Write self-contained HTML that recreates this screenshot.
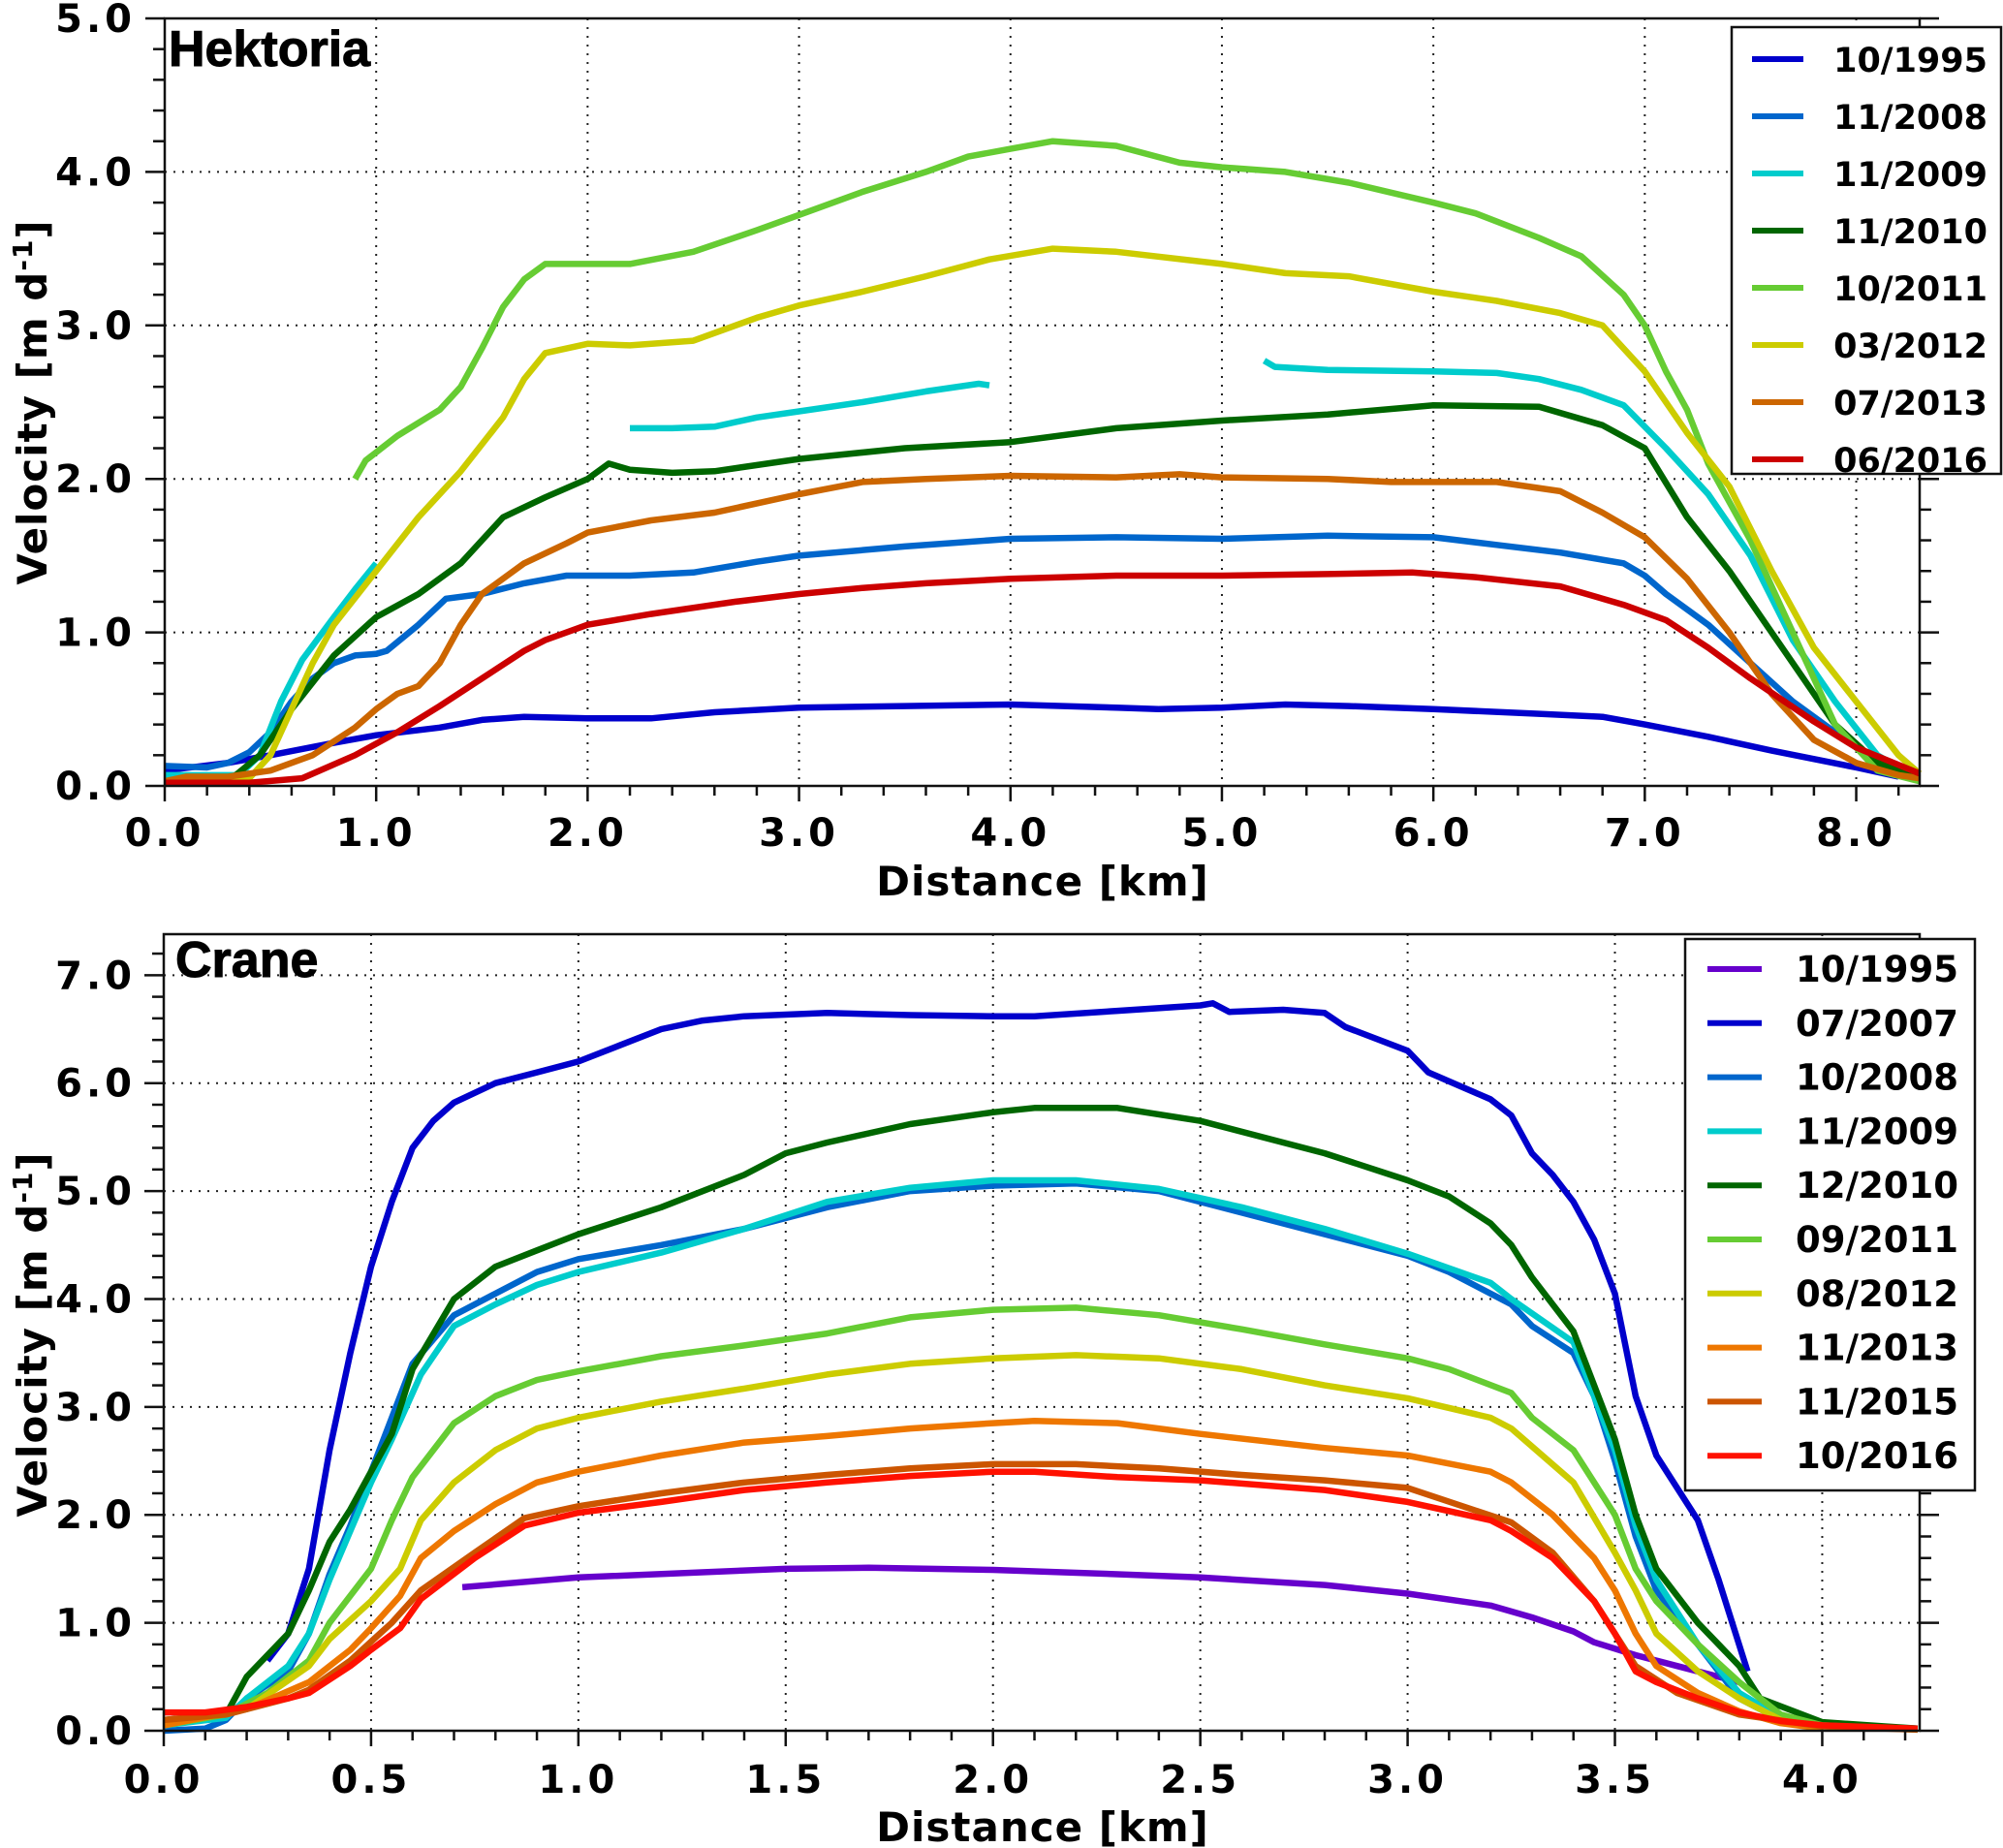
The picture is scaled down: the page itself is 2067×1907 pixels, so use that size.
<!DOCTYPE html>
<html><head><meta charset="utf-8"><style>
html,body{margin:0;padding:0;background:#fff;}
svg{display:block;font-family:"DejaVu Sans","Liberation Sans",sans-serif;font-weight:bold;}
</style></head><body>
<svg id="chart" width="2067" height="1907" viewBox="0 0 2067 1907" xmlns="http://www.w3.org/2000/svg"></svg>
<script>
// ---------- Hektoria data ----------
const hekDates = ["10/1995","11/2008","11/2009","11/2010","10/2011","03/2012","07/2013","06/2016"];
const hekColors = ["#0000cc","#0066cc","#00cccc","#006600","#66cc33","#cccc00","#cc6600","#cc0000"];
const hek1995X = [0,0.3,0.5,0.8,1.0,1.3,1.5,1.7,2.0,2.3,2.6,3.0,3.5,4.0,4.5,4.7,5.0,5.3,5.6,6.0,6.5,6.8,7.0,7.3,7.6,8.0,8.2];
const hek1995V = [0.10,0.15,0.2,0.28,0.33,0.38,0.43,0.45,0.44,0.44,0.48,0.51,0.52,0.53,0.51,0.50,0.51,0.53,0.52,0.50,0.47,0.45,0.40,0.32,0.23,0.12,0.06];
const hek2008X = [0,0.2,0.3,0.4,0.5,0.6,0.7,0.8,0.9,1.0,1.05,1.2,1.33,1.5,1.7,1.9,2.2,2.5,2.8,3.0,3.5,4.0,4.5,5.0,5.5,6.0,6.3,6.6,6.9,7.0,7.1,7.3,7.5,7.7,7.9,8.1,8.3];
const hek2008V = [0.13,0.12,0.15,0.22,0.35,0.55,0.7,0.8,0.85,0.86,0.88,1.05,1.22,1.25,1.32,1.37,1.37,1.39,1.46,1.5,1.56,1.61,1.62,1.61,1.63,1.62,1.57,1.52,1.45,1.37,1.25,1.05,0.8,0.55,0.35,0.15,0.05];
const hek2009X = [0,0.2,0.35,0.45,0.55,0.65,0.8,0.9,1.0,null,2.2,2.4,2.6,2.8,3.0,3.3,3.6,3.85,3.9,null,5.2,5.25,5.5,6.0,6.3,6.5,6.7,6.9,7.1,7.3,7.5,7.7,7.9,8.1,8.2];
const hek2009V = [0.07,0.07,0.07,0.2,0.55,0.82,1.1,1.28,1.45,null,2.33,2.33,2.34,2.4,2.44,2.5,2.57,2.62,2.61,null,2.77,2.73,2.71,2.70,2.69,2.65,2.58,2.48,2.2,1.9,1.5,0.95,0.55,0.2,0.12];
const hek2010X = [0,0.3,0.45,0.6,0.8,1.0,1.2,1.4,1.6,1.8,2.0,2.1,2.2,2.4,2.6,3.0,3.5,4.0,4.5,5.0,5.5,6.0,6.5,6.8,7.0,7.2,7.4,7.5,7.7,7.9,8.1,8.3];
const hek2010V = [0.03,0.03,0.2,0.5,0.85,1.1,1.25,1.45,1.75,1.88,2.0,2.1,2.06,2.04,2.05,2.13,2.2,2.24,2.33,2.38,2.42,2.48,2.47,2.35,2.2,1.75,1.4,1.2,0.8,0.4,0.15,0.05];
const hek2011X = [0.9,0.95,1.1,1.3,1.4,1.5,1.6,1.7,1.8,2.0,2.2,2.5,2.8,3.0,3.3,3.6,3.8,4.0,4.2,4.5,4.8,5.0,5.3,5.6,6.0,6.2,6.5,6.7,6.9,7.0,7.1,7.2,7.3,7.5,7.7,7.9,8.1,8.3];
const hek2011V = [2.0,2.12,2.28,2.45,2.6,2.85,3.12,3.3,3.4,3.4,3.4,3.48,3.62,3.72,3.87,4.0,4.1,4.15,4.2,4.17,4.06,4.03,4.0,3.93,3.8,3.73,3.57,3.45,3.2,3.0,2.7,2.45,2.1,1.6,1.0,0.4,0.1,0.03];
const hek2012X = [0,0.4,0.5,0.6,0.7,0.8,1.0,1.2,1.4,1.6,1.7,1.8,2.0,2.2,2.5,2.8,3.0,3.3,3.6,3.9,4.2,4.5,5.0,5.3,5.6,6.0,6.3,6.6,6.8,7.0,7.2,7.4,7.6,7.8,8.0,8.2,8.3];
const hek2012V = [0.03,0.05,0.2,0.5,0.8,1.05,1.4,1.75,2.05,2.4,2.65,2.82,2.88,2.87,2.9,3.05,3.13,3.22,3.32,3.43,3.5,3.48,3.4,3.34,3.32,3.22,3.16,3.08,3.0,2.7,2.3,1.95,1.4,0.9,0.55,0.2,0.08];
const hek2013X = [0,0.1,0.3,0.5,0.7,0.9,1.0,1.1,1.2,1.3,1.4,1.5,1.7,1.9,2.0,2.3,2.6,3.0,3.3,3.6,4.0,4.5,4.8,5.0,5.5,5.8,6.0,6.3,6.6,6.8,7.0,7.2,7.4,7.6,7.8,8.0,8.2,8.3];
const hek2013V = [0.03,0.06,0.06,0.1,0.2,0.38,0.5,0.6,0.65,0.8,1.05,1.25,1.45,1.58,1.65,1.73,1.78,1.9,1.98,2.0,2.02,2.01,2.03,2.01,2.0,1.98,1.98,1.98,1.92,1.78,1.62,1.35,1.0,0.6,0.3,0.15,0.07,0.05];
const hek2016X = [0,0.4,0.65,0.9,1.1,1.3,1.5,1.7,1.8,2.0,2.3,2.7,3.0,3.3,3.6,4.0,4.5,5.0,5.5,5.9,6.2,6.6,6.9,7.1,7.3,7.5,7.8,8.0,8.3];
const hek2016V = [0.02,0.02,0.05,0.2,0.35,0.52,0.7,0.88,0.95,1.05,1.12,1.2,1.25,1.29,1.32,1.35,1.37,1.37,1.38,1.39,1.36,1.3,1.18,1.08,0.9,0.7,0.42,0.25,0.08];
const hekXTicks = ["0.0","1.0","2.0","3.0","4.0","5.0","6.0","7.0","8.0"];
const hekYTicks = ["0.0","1.0","2.0","3.0","4.0","5.0"];

// ---------- Crane data ----------
const craDates = ["10/1995","07/2007","10/2008","11/2009","12/2010","09/2011","08/2012","11/2013","11/2015","10/2016"];
const craColors = ["#6600cc","#0000cc","#0066cc","#00cccc","#006600","#66cc33","#cccc00","#ee7700","#cc5500","#ff1100"];
const cra1995X = [0.72,1.0,1.5,1.7,2.0,2.3,2.5,2.8,3.0,3.2,3.3,3.4,3.45,3.55,3.65,3.75,3.8];
const cra1995V = [1.33,1.42,1.5,1.51,1.49,1.45,1.42,1.35,1.27,1.16,1.05,0.92,0.82,0.7,0.6,0.5,0.45];
const cra2007X = [0.25,0.3,0.35,0.4,0.45,0.5,0.55,0.6,0.65,0.7,0.8,0.9,1.0,1.1,1.2,1.3,1.4,1.6,1.8,2.0,2.1,2.3,2.5,2.53,2.57,2.7,2.8,2.85,3.0,3.05,3.2,3.25,3.3,3.35,3.4,3.45,3.5,3.55,3.6,3.7,3.75,3.82];
const cra2007V = [0.65,0.9,1.5,2.6,3.5,4.3,4.9,5.4,5.65,5.82,6.0,6.1,6.2,6.35,6.5,6.58,6.62,6.65,6.63,6.62,6.62,6.67,6.72,6.74,6.66,6.68,6.65,6.52,6.3,6.1,5.85,5.7,5.35,5.15,4.9,4.55,4.05,3.1,2.55,1.95,1.4,0.55];
const cra2008X = [0,0.1,0.15,0.2,0.3,0.35,0.4,0.45,0.5,0.55,0.6,0.7,0.8,0.9,1.0,1.2,1.4,1.6,1.8,2.0,2.2,2.4,2.6,2.8,3.0,3.1,3.25,3.3,3.4,3.45,3.5,3.55,3.6,3.7,3.8,3.9,4.0,4.23];
const cra2008V = [0.0,0.02,0.1,0.3,0.55,0.9,1.45,1.9,2.4,2.9,3.4,3.85,4.05,4.25,4.37,4.5,4.65,4.85,5.0,5.05,5.07,5.0,4.8,4.6,4.4,4.25,3.95,3.75,3.5,3.1,2.5,1.8,1.3,0.8,0.3,0.1,0.05,0.02];
const cra2009X = [0,0.15,0.2,0.3,0.35,0.4,0.45,0.5,0.55,0.62,0.7,0.8,0.9,1.0,1.2,1.4,1.6,1.8,2.0,2.2,2.4,2.6,2.8,3.0,3.2,3.25,3.4,3.5,3.55,3.6,3.7,3.8,3.9,4.0,4.23];
const cra2009V = [0.05,0.12,0.3,0.6,0.9,1.4,1.85,2.3,2.7,3.3,3.75,3.95,4.13,4.25,4.43,4.65,4.9,5.03,5.1,5.1,5.02,4.85,4.65,4.42,4.15,4.0,3.6,2.6,1.9,1.4,0.8,0.35,0.12,0.05,0.02];
const cra2010X = [0,0.15,0.2,0.3,0.35,0.4,0.45,0.5,0.55,0.6,0.7,0.8,0.9,1.0,1.2,1.4,1.5,1.6,1.8,2.0,2.1,2.3,2.5,2.7,2.8,3.0,3.1,3.2,3.25,3.3,3.4,3.5,3.55,3.6,3.7,3.8,3.85,4.0,4.23];
const cra2010V = [0.1,0.15,0.5,0.9,1.3,1.75,2.05,2.4,2.75,3.35,4.0,4.3,4.45,4.6,4.85,5.15,5.35,5.45,5.62,5.73,5.77,5.77,5.65,5.45,5.35,5.1,4.95,4.7,4.5,4.2,3.7,2.7,2.0,1.5,1.0,0.6,0.3,0.08,0.02];
const cra2011X = [0,0.15,0.25,0.35,0.4,0.5,0.55,0.6,0.7,0.8,0.9,1.0,1.2,1.4,1.6,1.8,2.0,2.2,2.4,2.6,2.8,3.0,3.1,3.25,3.3,3.4,3.5,3.55,3.6,3.7,3.8,3.9,4.0,4.23];
const cra2011V = [0.05,0.15,0.35,0.65,1.0,1.5,1.95,2.35,2.85,3.1,3.25,3.33,3.47,3.57,3.68,3.83,3.9,3.92,3.85,3.72,3.58,3.45,3.35,3.13,2.9,2.6,2.0,1.5,1.2,0.8,0.45,0.15,0.05,0.01];
const cra2012X = [0,0.2,0.35,0.4,0.5,0.57,0.62,0.7,0.8,0.9,1.0,1.2,1.4,1.6,1.8,2.0,2.2,2.4,2.6,2.8,3.0,3.2,3.25,3.4,3.5,3.55,3.6,3.7,3.8,3.9,4.0];
const cra2012V = [0.05,0.2,0.6,0.85,1.2,1.5,1.95,2.3,2.6,2.8,2.9,3.05,3.17,3.3,3.4,3.45,3.48,3.45,3.35,3.2,3.08,2.9,2.8,2.3,1.65,1.3,0.9,0.55,0.3,0.1,0.03];
const cra2013X = [0,0.2,0.35,0.45,0.5,0.57,0.62,0.7,0.8,0.9,1.0,1.2,1.4,1.6,1.8,2.0,2.1,2.3,2.5,2.8,3.0,3.2,3.25,3.35,3.45,3.5,3.55,3.6,3.7,3.8,3.9,4.0];
const cra2013V = [0.05,0.2,0.45,0.75,0.95,1.25,1.6,1.85,2.1,2.3,2.4,2.55,2.67,2.73,2.8,2.85,2.87,2.85,2.75,2.62,2.55,2.4,2.3,2.0,1.6,1.3,0.9,0.6,0.35,0.18,0.07,0.02];
const cra2015X = [0,0.15,0.3,0.35,0.45,0.55,0.62,0.75,0.87,1.0,1.2,1.4,1.6,1.8,2.0,2.2,2.4,2.6,2.8,3.0,3.25,3.35,3.45,3.5,3.55,3.65,3.8,4.0,4.23];
const cra2015V = [0.1,0.15,0.3,0.38,0.65,1.0,1.3,1.65,1.97,2.08,2.2,2.3,2.37,2.43,2.47,2.47,2.43,2.37,2.32,2.25,1.93,1.65,1.2,0.9,0.6,0.35,0.15,0.04,0.01];
const cra2016X = [0,0.1,0.2,0.3,0.35,0.45,0.5,0.57,0.62,0.75,0.87,1.0,1.2,1.4,1.6,1.8,2.0,2.1,2.3,2.5,2.8,3.0,3.2,3.25,3.35,3.45,3.5,3.55,3.6,3.7,3.8,3.9,4.0,4.23];
const cra2016V = [0.17,0.17,0.22,0.3,0.35,0.6,0.75,0.95,1.22,1.6,1.9,2.02,2.12,2.23,2.3,2.36,2.4,2.4,2.35,2.32,2.23,2.12,1.95,1.85,1.6,1.2,0.9,0.55,0.45,0.3,0.17,0.09,0.05,0.02];
const craXTicks = ["0.0","0.5","1.0","1.5","2.0","2.5","3.0","3.5","4.0"];
const craYTicks = ["0.0","1.0","2.0","3.0","4.0","5.0","6.0","7.0"];

const NS = "http://www.w3.org/2000/svg";
const svg = document.getElementById("chart");
function mk(tag, attrs, parent){
  const e = document.createElementNS(NS, tag);
  for (const k in attrs) e.setAttribute(k, attrs[k]);
  (parent||svg).appendChild(e);
  return e;
}

function panel(o){
  const g = mk("g", {});
  
  
  const sx = v => o.L + (v - o.x0) / (o.x1 - o.x0) * (o.R - o.L);
  const sy = v => o.B - (v - o.y0) / (o.y1 - o.y0) * (o.B - o.T);
  const grid = mk("g", {stroke:"#222","stroke-width":2,"stroke-dasharray":"2,7"}, g);
  
  
  o.xTicks.forEach(t => { const v=parseFloat(t); if (v>o.x0 && v<o.x1) mk("line",{x1:sx(v),x2:sx(v),y1:o.T,y2:o.B},grid); });
  o.yTicks.forEach(t => { const v=parseFloat(t); if (v>o.y0 && v<o.y1) mk("line",{x1:o.L,x2:o.R,y1:sy(v),y2:sy(v)},grid); });
  o.series.forEach((s,i) => {
    let d = "", pen = false;
    for (let k=0;k<s.x.length;k++){
      if (s.x[k]===null){ pen=false; continue; }
      d += (pen?"L":"M") + sx(s.x[k]).toFixed(1) + "," + sy(s.v[k]).toFixed(1);
      pen = true;
    }
    const p = mk("path",{d:d,fill:"none",stroke:o.colors[i],"stroke-width":6.5,"stroke-linejoin":"round"}, g);
    
    
  });
  const fr = mk("rect",{x:o.L,y:o.T,width:o.R-o.L,height:o.B-o.T,fill:"none",stroke:"#111","stroke-width":2.5}, g);
  
  
  const tk = mk("g",{stroke:"#111","stroke-width":2.5}, g);
  
  
  for (let v=o.x0; v<=o.x1+1e-6; v+=o.xMinor){
    const isMaj = Math.abs(v/o.xMajor - Math.round(v/o.xMajor))<1e-6;
    mk("line",{x1:sx(v),x2:sx(v),y1:o.B,y2:o.B+(isMaj?16:10)},tk);
  }
  for (let v=o.y0; v<=o.y1+1e-6; v+=o.yMinor){
    const isMaj = Math.abs(v - Math.round(v))<1e-6;
    const len = isMaj?20:12;
    mk("line",{x1:o.L-len,x2:o.L,y1:sy(v),y2:sy(v)},tk);
    mk("line",{x1:o.R,x2:o.R+len,y1:sy(v),y2:sy(v)},tk);
  }
  o.xTicks.forEach(t => {
    const e = mk("text",{x:sx(parseFloat(t)),y:o.xLabY,"text-anchor":"middle","font-size":40,"letter-spacing":4}, g);
    e.textContent = t;
    
    
  });
  o.yTicks.forEach(t => {
    const e = mk("text",{x:140,y:sy(parseFloat(t))+14,"text-anchor":"end","font-size":40,"letter-spacing":4}, g);
    e.textContent = t;
    
    
  });
  const xt = mk("text",{x:1076,y:o.xTitleY,"text-anchor":"middle","font-size":42,"letter-spacing":1}, g);
  xt.textContent = "Distance [km]";
  
  
  const yt = mk("text",{x:0,y:0,"text-anchor":"middle","font-size":42,"letter-spacing":1,transform:"translate(48,"+o.yTitleC+") rotate(-90)"}, g);
  yt.innerHTML = 'Velocity [m d<tspan dy="-15" font-size="28">-1</tspan><tspan dy="15">]</tspan>';
  
  
  const tt = mk("text",{x:o.titleX,y:o.titleY,"font-size":52,"font-family":"Liberation Sans, sans-serif","font-weight":"bold","stroke":"#000","stroke-width":1}, g);
  tt.textContent = o.title;
  
  
  const lg = mk("g",{}, g);
  
  
  mk("rect",{x:o.lg.x,y:o.lg.y,width:o.lg.w,height:o.lg.h,fill:"#fff",stroke:"#111","stroke-width":2.5}, lg);
  o.dates.forEach((dt,i) => {
    const y = o.lg.first + i*o.lg.step;
    const en = mk("g",{}, lg);
    
    
    mk("line",{x1:o.lg.l1,x2:o.lg.l2,y1:y,y2:y,stroke:o.colors[i],"stroke-width":6}, en);
    const tx = mk("text",{x:o.lg.tx,y:y+13,"text-anchor":"end","font-size":o.lg.fs}, en);
    tx.textContent = dt;
  });
}

panel({
  name:"hektoria-panel", title:"Hektoria", titleX:174, titleY:68,
  L:170, R:1981, T:19, B:811, x0:0, x1:8.3, y0:0, y1:5,
  xMinor:0.2, xMajor:1, yMinor:0.2,
  xTicks:hekXTicks, yTicks:hekYTicks, xLabY:873, xTitleY:924, yTitleC:415,
  dates:hekDates, colors:hekColors,
  series:[{x:hek1995X,v:hek1995V},{x:hek2008X,v:hek2008V},{x:hek2009X,v:hek2009V},{x:hek2010X,v:hek2010V},
          {x:hek2011X,v:hek2011V},{x:hek2012X,v:hek2012V},{x:hek2013X,v:hek2013V},{x:hek2016X,v:hek2016V}],
  lg:{x:1787,y:28,w:278,h:461,first:61,step:59,l1:1808,l2:1861,tx:2051,fs:35}
});
panel({
  name:"crane-panel", title:"Crane", titleX:181, titleY:1008,
  L:169, R:1981, T:964, B:1786, x0:0, x1:4.235, y0:0, y1:7.38,
  xMinor:0.1, xMajor:0.5, yMinor:0.2,
  xTicks:craXTicks, yTicks:craYTicks, xLabY:1850, xTitleY:1900, yTitleC:1377,
  dates:craDates, colors:craColors,
  series:[{x:cra1995X,v:cra1995V},{x:cra2007X,v:cra2007V},{x:cra2008X,v:cra2008V},{x:cra2009X,v:cra2009V},
          {x:cra2010X,v:cra2010V},{x:cra2011X,v:cra2011V},{x:cra2012X,v:cra2012V},{x:cra2013X,v:cra2013V},
          {x:cra2015X,v:cra2015V},{x:cra2016X,v:cra2016V}],
  lg:{x:1739,y:969,w:299,h:569,first:1000,step:55.8,l1:1762,l2:1818,tx:2021,fs:37}
});
</script>
</body></html>
